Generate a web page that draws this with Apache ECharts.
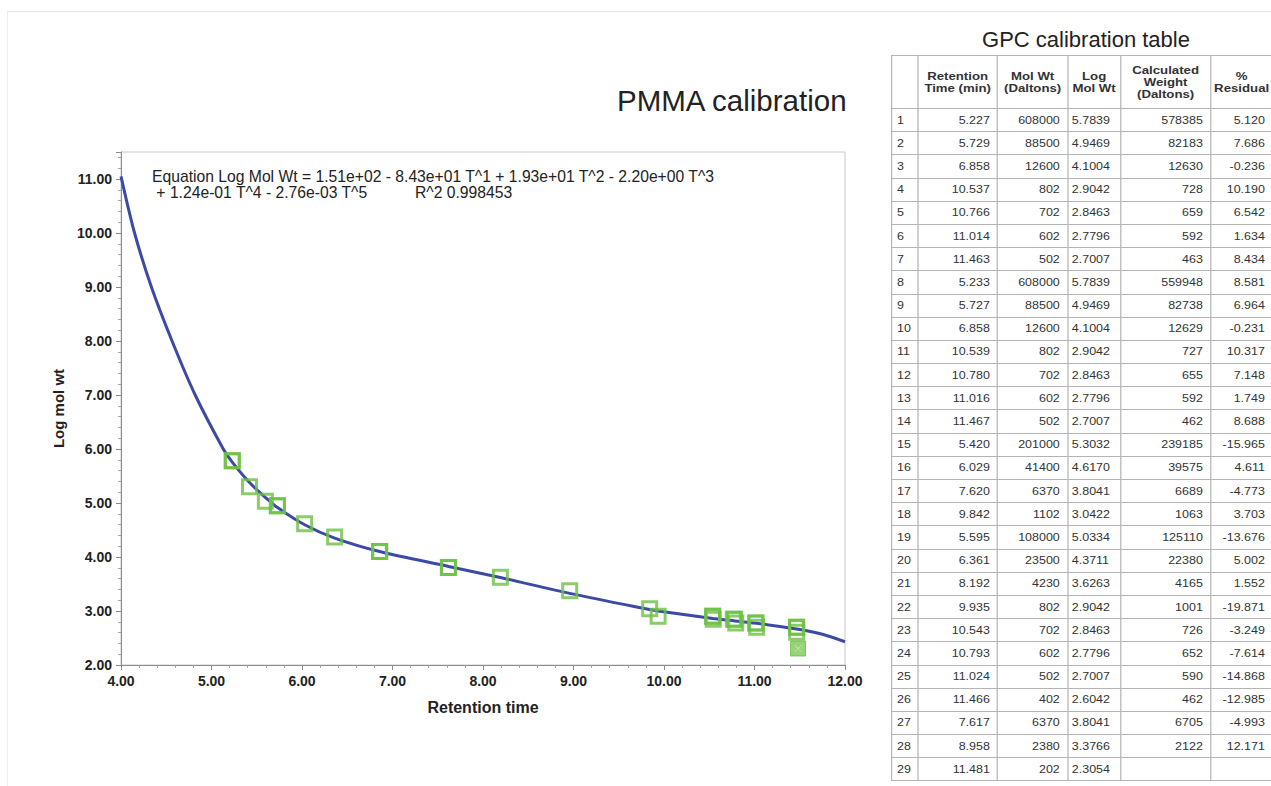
<!DOCTYPE html>
<html>
<head>
<meta charset="utf-8">
<script src="https://cdn.jsdelivr.net/npm/echarts@6/dist/echarts.min.js"></script>
<style>
  html, body { margin: 0; padding: 0; background: #fff; }
  body { width: 1271px; height: 786px; overflow: hidden; position: relative; font-family: 'Liberation Sans', Arial, sans-serif; }
  #chart { position: absolute; left: 0; top: 0; width: 1271px; height: 786px; }
  #frame { position: absolute; left: 7px; top: 11px; width: 1300px; height: 800px; border-top: 1px solid #e4e4e4; border-left: 1px solid #ececec; }
  #ttl { position: absolute; left: 975px; top: 26px; width: 222px; text-align: center; font-size: 22px; color: #222; white-space: nowrap; line-height: 28px; }
  #tblwrap { position: absolute; left: 891px; top: 55px; transform: scaleX(1.2); transform-origin: 0 0; }
  table { border-collapse: collapse; table-layout: fixed; color: #333; }
  td, th { border: 1px solid #b4b4b4; padding: 0; overflow: hidden; white-space: nowrap; }
  th { font-size: 11px; font-weight: bold; line-height: 12px; text-align: center; vertical-align: middle; height: 52px; color: #333; }
  td { font-size: 10.4px; height: 22.2px; text-align: right; padding-right: 6px; }
  td.idx { text-align: left; padding-left: 4px; padding-right: 0; }
  td.lg { text-align: left; padding-left: 3px; padding-right: 0; }
</style>
</head>
<body>
<div id="frame"></div>
<div id="chart"></div>
<div id="ttl">GPC calibration table</div>
<div id="tblwrap"><table id="tbl"></table></div>
<script>
// ---- Data ----
const retentionTime = [5.227, 5.729, 6.858, 10.537, 10.766, 11.014, 11.463, 5.233, 5.727, 6.858, 10.539, 10.780, 11.016, 11.467, 5.420, 6.029, 7.620, 9.842, 5.595, 6.361, 8.192, 9.935, 10.543, 10.793, 11.024, 11.466, 7.617, 8.958, 11.481];
const molWt = [608000, 88500, 12600, 802, 702, 602, 502, 608000, 88500, 12600, 802, 702, 602, 502, 201000, 41400, 6370, 1102, 108000, 23500, 4230, 802, 702, 602, 502, 402, 6370, 2380, 202];
const logMolWt = [5.7839, 4.9469, 4.1004, 2.9042, 2.8463, 2.7796, 2.7007, 5.7839, 4.9469, 4.1004, 2.9042, 2.8463, 2.7796, 2.7007, 5.3032, 4.6170, 3.8041, 3.0422, 5.0334, 4.3711, 3.6263, 2.9042, 2.8463, 2.7796, 2.7007, 2.6042, 3.8041, 3.3766, 2.3054];
const calcWt = [578385, 82183, 12630, 728, 659, 592, 463, 559948, 82738, 12629, 727, 655, 592, 462, 239185, 39575, 6689, 1063, 125110, 22380, 4165, 1001, 726, 652, 590, 462, 6705, 2122, null];
const residual = [5.120, 7.686, -0.236, 10.190, 6.542, 1.634, 8.434, 8.581, 6.964, -0.231, 10.317, 7.148, 1.749, 8.688, -15.965, 4.611, -4.773, 3.703, -13.676, 5.002, 1.552, -19.871, -3.249, -7.614, -14.868, -12.985, -4.993, 12.171, null];
const excludedIndex = [28];

// fitted calibration curve
const curveT = [4.00, 4.15, 4.336, 4.564, 4.82, 5.13, 5.227, 5.42, 5.60, 5.729, 6.029, 6.361, 6.858, 7.62, 8.192, 8.958, 9.842, 9.935, 10.54, 10.78, 11.02, 11.466, 11.75, 12.00];
const curveLog = [11.05, 10.00, 9.00, 8.00, 7.00, 6.00, 5.762, 5.379, 5.097, 4.915, 4.597, 4.350, 4.101, 3.825, 3.620, 3.327, 3.027, 3.000, 2.862, 2.816, 2.772, 2.665, 2.57, 2.43];

const headers = ['', 'Retention<br>Time (min)', 'Mol Wt<br>(Daltons)', 'Log<br>Mol Wt', 'Calculated<br>Weight<br>(Daltons)', '%<br>Residual'];
const colWidths = [21.7, 66.7, 58.3, 44.2, 75, 51.7];

const chartTitle = 'PMMA calibration';
const eqLine1 = 'Equation Log Mol Wt = 1.51e+02 - 8.43e+01 T^1 + 1.93e+01 T^2 - 2.20e+00 T^3';
const eqLine2 = ' + 1.24e-01 T^4 - 2.76e-03 T^5';
const r2Text = 'R^2 0.998453';

// ---- Table ----
(function buildTable() {
  const t = document.getElementById('tbl');
  let html = '<colgroup>' + colWidths.map(w => '<col style="width:' + w + 'px">').join('') + '</colgroup>';
  html += '<tr>' + headers.map(h => '<th>' + h + '</th>').join('') + '</tr>';
  for (let i = 0; i < retentionTime.length; i++) {
    html += '<tr>' +
      '<td class="idx">' + (i + 1) + '</td>' +
      '<td>' + retentionTime[i].toFixed(3) + '</td>' +
      '<td>' + molWt[i] + '</td>' +
      '<td class="lg">' + logMolWt[i].toFixed(4) + '</td>' +
      '<td>' + (calcWt[i] == null ? '' : calcWt[i]) + '</td>' +
      '<td>' + (residual[i] == null ? '' : residual[i].toFixed(3)) + '</td>' +
      '</tr>';
  }
  t.innerHTML = html;
})();

// ---- Chart ----
const included = [], excluded = [];
retentionTime.forEach((t, i) => {
  if (excludedIndex.includes(i)) excluded.push([t, logMolWt[i]]);
  else included.push([t, logMolWt[i]]);
});
const curveData = curveT.map((t, i) => [t, curveLog[i]]);

const chart = echarts.init(document.getElementById('chart'), null, { renderer: 'svg' });
const FONT = "'Liberation Sans', Arial, sans-serif";
const green = '#6dbf45';
chart.setOption({
  animation: false,
  backgroundColor: 'transparent',
  grid: { left: 121, right: 426, top: 152, bottom: 121, show: true, borderColor: '#c8c8c8', borderWidth: 1, backgroundColor: 'transparent' },
  xAxis: {
    type: 'value', min: 4, max: 12, interval: 1,
    name: 'Retention time', nameLocation: 'middle', nameGap: 34,
    nameTextStyle: { fontFamily: FONT, fontSize: 16, fontWeight: 'bold', color: '#222' },
    axisLine: { show: true, onZero: false, lineStyle: { color: '#8c8c8c', width: 1 } },
    axisTick: { show: true, length: 5, lineStyle: { color: '#8c8c8c' } },
    minorTick: { show: true, splitNumber: 5, length: 3, lineStyle: { color: '#a0a0a0' } },
    splitLine: { show: false },
    axisLabel: { formatter: v => v.toFixed(2), fontFamily: FONT, fontSize: 14, fontWeight: 'bold', color: '#222', margin: 9 }
  },
  yAxis: {
    type: 'value', min: 2, max: 11.5, interval: 1,
    name: 'Log mol wt', nameLocation: 'middle', nameGap: 49, nameRotate: 90,
    nameTextStyle: { fontFamily: FONT, fontSize: 15, fontWeight: 'bold', color: '#222' },
    axisLine: { show: true, onZero: false, lineStyle: { color: '#8c8c8c', width: 1 } },
    axisTick: { show: true, length: 5, lineStyle: { color: '#8c8c8c' } },
    minorTick: { show: true, splitNumber: 5, length: 3, lineStyle: { color: '#a0a0a0' } },
    splitLine: { show: false },
    axisLabel: { formatter: v => v.toFixed(2), fontFamily: FONT, fontSize: 14, fontWeight: 'bold', color: '#222', margin: 9, showMaxLabel: false }
  },
  graphic: [
    { type: 'text', left: 617, top: 85, style: { text: chartTitle, font: "29.5px 'Liberation Sans', Arial, sans-serif", fill: '#222' } },
    { type: 'text', left: 152, top: 168, style: { text: eqLine1, font: "15.7px 'Liberation Sans', Arial, sans-serif", fill: '#222' } },
    { type: 'text', left: 152, top: 184, style: { text: eqLine2, font: "15.7px 'Liberation Sans', Arial, sans-serif", fill: '#222' } },
    { type: 'text', left: 415, top: 184, style: { text: r2Text, font: "15.7px 'Liberation Sans', Arial, sans-serif", fill: '#222' } }
  ],
  series: [
    {
      type: 'line', data: curveData, smooth: 0.3, showSymbol: false, silent: true,
      lineStyle: { color: '#3c4aa6', width: 3 }, z: 2
    },
    {
      type: 'scatter', data: included, symbol: 'rect', symbolSize: 14,
      itemStyle: { color: 'rgba(255,255,255,0)', borderColor: green, borderWidth: 3 }, z: 3
    },
    {
      type: 'scatter', data: excluded, symbol: 'rect', symbolSize: 15,
      itemStyle: { color: '#7dc856', borderColor: green, borderWidth: 1 }, z: 3
    },
    {
      type: 'scatter', data: excluded, symbol: 'path://M0,0L10,10M10,0L0,10', symbolSize: 6,
      itemStyle: { color: 'none', borderColor: '#ffffff', borderWidth: 1, borderType: 'dotted' }, z: 4
    }
  ]
});
</script>
</body>
</html>
